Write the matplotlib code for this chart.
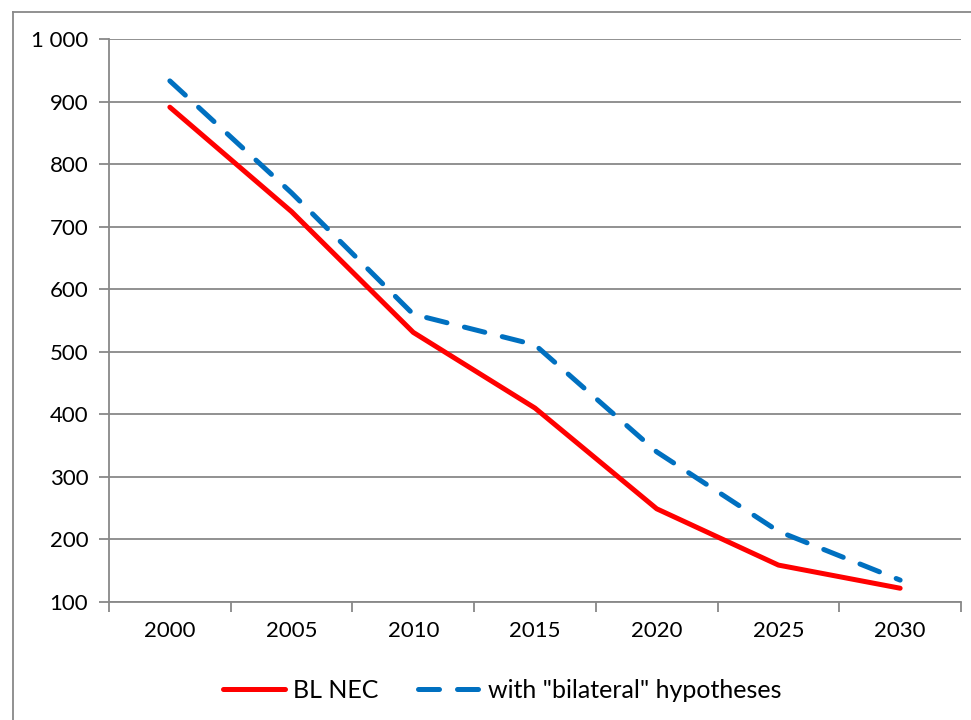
import matplotlib
matplotlib.use("Agg")
import matplotlib.pyplot as plt
from matplotlib.ticker import FuncFormatter, FixedLocator, NullFormatter
import numpy as np

years = ["2000", "2005", "2010", "2015", "2020", "2025", "2030"]
bl_nec = [891, 724, 531, 410, 249, 159, 122]
bilateral = [933, 754, 560, 511, 340, 213, 135]
series_names = ["BL NEC", 'with "bilateral" hypotheses']

plt.rcParams['font.family'] = ['Lato', 'DejaVu Sans']

fig = plt.figure(figsize=(9.71, 7.2), dpi=100)
ax = fig.add_axes([109/971, 1-602/720, (961-109)/971, (602-39)/720])

x = np.arange(len(years))
ax.plot(x, bl_nec, color="#ff0000", lw=3.6, solid_capstyle="round", solid_joinstyle="round",
        label=series_names[0], zorder=3)
ax.plot(x, bilateral, color="#0070c0", lw=3.6, dashes=(4.2, 3.6), dash_capstyle="round",
        label=series_names[1], zorder=3)

ax.set_xlim(-0.5, len(years) - 0.5)
ax.set_ylim(100, 1000)
ax.set_yticks(np.arange(100, 1001, 100))
ax.yaxis.set_major_formatter(FuncFormatter(lambda v, p: f"{int(v):,}".replace(",", " ")))
ax.set_xticks(x)
ax.set_xticklabels(years)
ax.xaxis.set_minor_locator(FixedLocator(np.arange(-0.5, len(years), 1.0)))
ax.xaxis.set_minor_formatter(NullFormatter())
ax.tick_params(axis="x", which="major", length=0, pad=14, labelsize=16)
ax.tick_params(axis="x", which="minor", length=7, color="#888888", width=1.3)
ax.tick_params(axis="y", length=7, color="#888888", width=1.3, pad=8, labelsize=16)

ax.grid(axis="y", color="#888888", lw=1.3)
ax.set_axisbelow(True)
for s in ["top", "right"]:
    ax.spines[s].set_visible(False)
for s in ["left", "bottom"]:
    ax.spines[s].set_color("#888888")
    ax.spines[s].set_linewidth(1.3)

leg = fig.legend(loc="center", bbox_to_anchor=(0.517, 1-690/720), ncol=2, frameon=False,
                 fontsize=18, handlelength=2.5, columnspacing=1.6, handletextpad=0.3)

# outer chart frame
fig.add_artist(plt.Line2D([13/971, 13/971], [0, 1-12/720], transform=fig.transFigure,
                          color="#888888", lw=1.3))
fig.add_artist(plt.Line2D([13/971, 1], [1-12/720, 1-12/720], transform=fig.transFigure,
                          color="#888888", lw=1.3))

fig.savefig("out.png", dpi=100)
